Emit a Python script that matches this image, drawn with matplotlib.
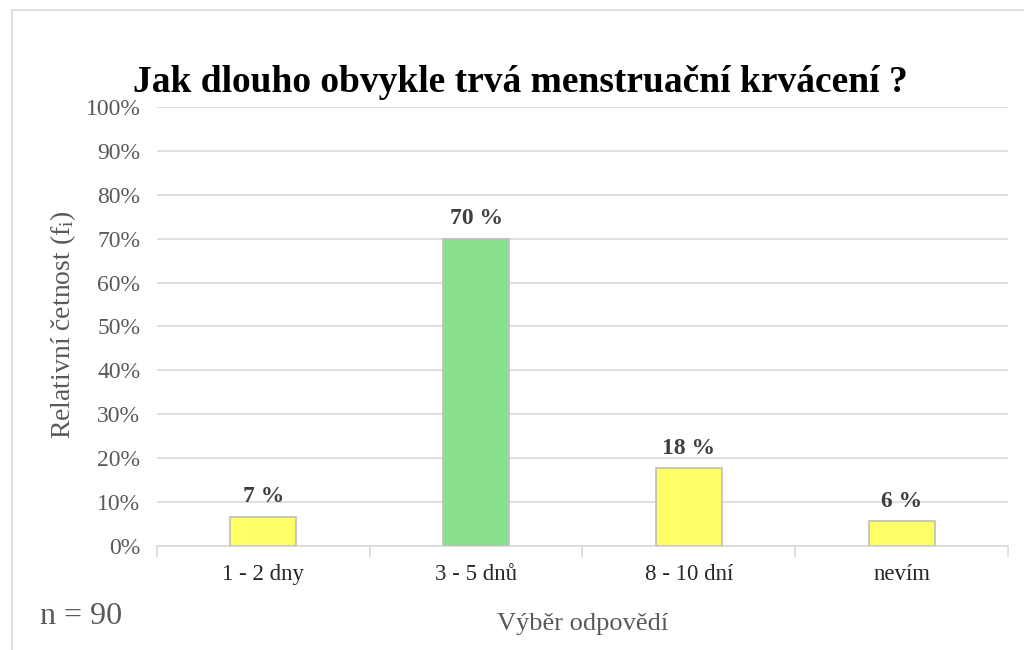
import matplotlib.pyplot as plt
from matplotlib.patches import Rectangle

plt.rcParams['font.family'] = ['Liberation Serif', 'DejaVu Serif']
plt.rcParams['mathtext.fontset'] = 'custom'
plt.rcParams['mathtext.rm'] = 'Liberation Serif'
plt.rcParams['mathtext.it'] = 'Liberation Serif'

categories = ['1 - 2 dny', '3 - 5 dnů', '8 - 10 dní', 'nevím']
values = [6.7, 70.0, 17.8, 5.6]
labels = ['7 %', '70 %', '18 %', '6 %']
colors = ['#FFFF66', '#88E08C', '#FFFF66', '#FFFF66']

fig = plt.figure(figsize=(10.24, 6.5), dpi=100)
ax = fig.add_axes([0.1533, 0.16, 0.831, 0.6754])

# outer chart frame
fig.patches.append(Rectangle((12 / 1024, -0.1), 1.2, 1 - 10 / 650 + 0.1,
                             transform=fig.transFigure, fill=False,
                             edgecolor='#d9d9d9', linewidth=1.2))

x = list(range(len(categories)))
ax.bar(x, values, width=0.31, color=colors, edgecolor='#bfbfbf', linewidth=1.2, zorder=3)
for xi, v, lab in zip(x, values, labels):
    ax.text(xi, v + 2.1, lab, ha='center', va='bottom', fontsize=17,
            fontweight='bold', color='#404040')

ax.set_xlim(-0.5, len(categories) - 0.5)
ax.set_ylim(0, 100)
ax.set_yticks(range(0, 101, 10))
ax.set_yticklabels([f'{t}%' for t in range(0, 101, 10)])
ax.yaxis.grid(True, color='#d9d9d9', linewidth=1.2, zorder=0)
ax.set_axisbelow(True)

ax.set_xticks(x)
ax.set_xticklabels(categories)
ax.set_xticks([i - 0.5 for i in range(len(categories) + 1)], minor=True)
ax.tick_params(axis='x', which='major', length=0, pad=13, labelsize=16.5, labelcolor='#262626')
ax.tick_params(axis='x', which='minor', length=8, color='#d9d9d9', width=1.2)
ax.tick_params(axis='y', length=0, pad=12, labelsize=17, labelcolor='#595959')

for s in ['top', 'right', 'left']:
    ax.spines[s].set_visible(False)
ax.spines['bottom'].set_color('#d9d9d9')
ax.spines['bottom'].set_linewidth(1.2)

ax.set_ylabel('Relativní četnost (f$_\\mathrm{i}$)', fontsize=20, color='#595959')
ax.yaxis.set_label_coords(63 / 1024, 0.5, transform=fig.transFigure)
ax.yaxis.label.set_va('center')
ax.set_xlabel('Výběr odpovědí', fontsize=19, color='#595959', labelpad=20)

fig.text(0.508, 0.873, 'Jak dlouho obvykle trvá menstruační krvácení ?', ha='center',
         va='center', fontsize=27, fontweight='bold', color='black')
fig.text(40 / 1024, 1 - 617 / 650, 'n = 90', ha='left', va='center', fontsize=23, color='#595959')

fig.savefig('out.png', dpi=100)
